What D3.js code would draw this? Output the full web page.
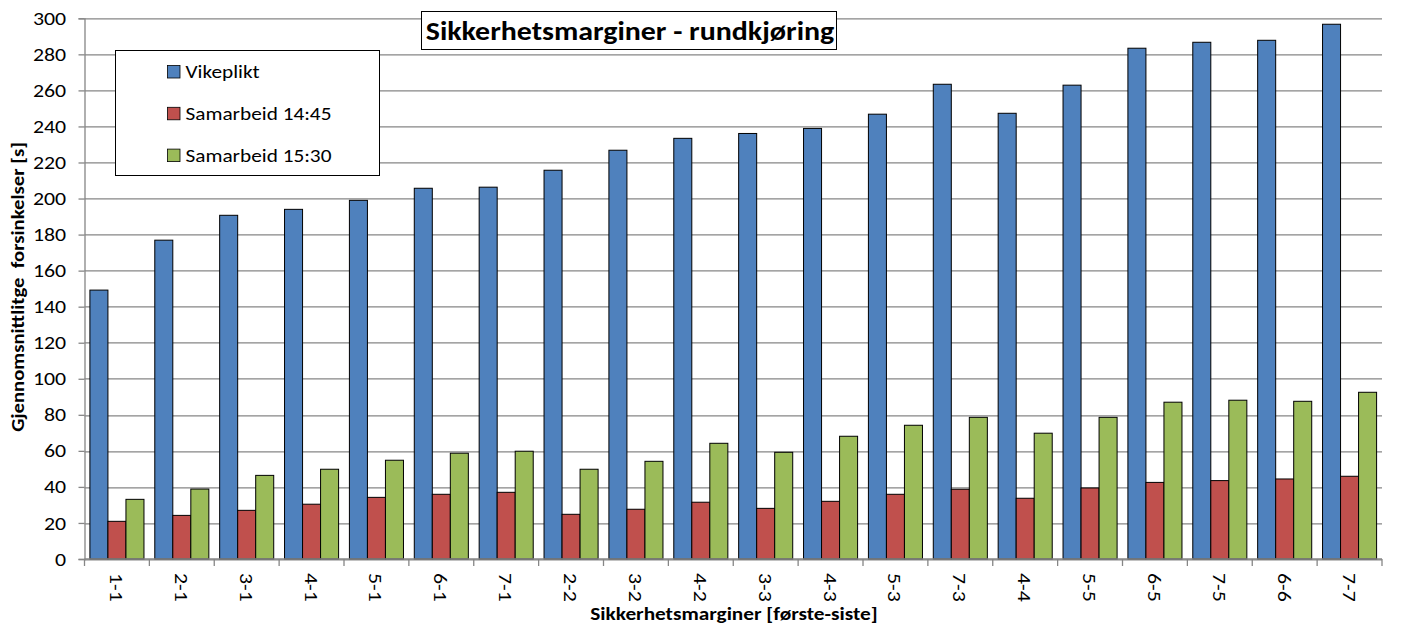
<!DOCTYPE html>
<html>
<head>
<meta charset="utf-8">
<script src="https://cdn.jsdelivr.net/npm/d3@7"></script>
<style>
    body { margin: 0; background: #fff; }
    svg text { font-family: Carlito, Calibri, Lato, sans-serif; fill: #000; }
</style>
</head>
<body>
<div id="chart"></div>
<script>
// Categories (first-last safety margin)
const categories = ['1-1', '2-1', '3-1', '4-1', '5-1', '6-1', '7-1', '2-2', '3-2', '4-2',
                    '3-3', '4-3', '5-3', '7-3', '4-4', '5-5', '6-5', '7-5', '6-6', '7-7'];

const seriesNames = ['Vikeplikt', 'Samarbeid 14:45', 'Samarbeid 15:30'];

const vikeplikt = [149.2, 176.9, 190.7, 194.0, 199.0, 205.7, 206.3, 215.7, 226.8, 233.4,
                   236.1, 238.9, 246.8, 263.4, 247.3, 262.9, 283.4, 286.7, 287.8, 296.7];
const samarbeid1445 = [20.9, 24.2, 27.0, 30.4, 34.2, 35.9, 37.0, 24.8, 27.6, 31.5,
                       28.1, 32.0, 35.9, 38.7, 33.7, 39.4, 42.5, 43.5, 44.4, 45.9];
const samarbeid1530 = [33.1, 38.8, 46.4, 49.8, 54.8, 58.7, 59.8, 49.8, 54.2, 64.2,
                       59.2, 68.1, 74.2, 78.6, 69.8, 78.6, 87.0, 88.1, 87.5, 92.5];

const yTicks = d3.range(0, 301, 20);
const colors = ['#4F81BD', '#C0504D', '#9BBB59'];

// the original text is a bit wider than Lato, so stretch it sideways
const SX = 1.15;

const width = 1401, height = 626;
const margin = { top: 18.3, right: 19, bottom: 67, left: 84.5 };

const svg = d3.select('#chart').append('svg')
    .attr('width', width)
    .attr('height', height);

const plotW = width - margin.left - margin.right;
const plotH = height - margin.top - margin.bottom;

const g = svg.append('g')
    .attr('transform', `translate(${margin.left},${margin.top})`);

// Scales
const x0 = d3.scaleBand().domain(categories).range([0, plotW]).padding(0);
const x1 = d3.scaleBand().domain([0, 1, 2]).range([0, x0.bandwidth()])
    .paddingInner(0).paddingOuter(0.3);
const y = d3.scaleLinear().domain([0, 300]).range([plotH, 0]);

// Gridlines
g.append('g')
    .selectAll('line')
    .data(yTicks)
    .enter()
    .append('line')
    .attr('x1', 0)
    .attr('x2', plotW)
    .attr('y1', d => Math.round(y(d)) + 0.5)
    .attr('y2', d => Math.round(y(d)) + 0.5)
    .style('stroke', '#868686')
    .style('stroke-width', 1.3);

// Bars
const data = categories.map((c, i) => ({
    cat: c,
    values: [vikeplikt[i], samarbeid1445[i], samarbeid1530[i]]
}));

const groups = g.selectAll('.group')
    .data(data)
    .enter()
    .append('g')
    .attr('class', 'group')
    .attr('transform', d => `translate(${x0(d.cat)},0)`);

groups.selectAll('rect')
    .data(d => d.values.map((v, k) => ({ k, v })))
    .enter()
    .append('rect')
    .attr('x', d => x1(d.k))
    .attr('y', d => y(d.v))
    .attr('width', x1.bandwidth())
    .attr('height', d => plotH - y(d.v))
    .style('fill', d => colors[d.k])
    .style('stroke', '#000')
    .style('stroke-width', 1);

// Y axis
const yAxis = g.append('g')
    .call(d3.axisLeft(y).tickValues(yTicks).tickSize(6).tickPadding(10));
yAxis.select('.domain').style('stroke', '#868686').style('stroke-width', 1.3);
yAxis.selectAll('.tick line').style('stroke', '#868686').style('stroke-width', 1.3);
yAxis.selectAll('.tick text')
    .attr('transform', `scale(${SX},1)`)
    .style('font-family', 'Carlito, Calibri, Lato, sans-serif')
    .style('font-size', '19px')
    .style('fill', '#000');

// X axis: line plus boundary ticks
const xAxis = g.append('g').attr('transform', `translate(0,${plotH})`);
xAxis.append('line')
    .attr('x1', 0).attr('x2', plotW)
    .attr('y1', 0).attr('y2', 0)
    .style('stroke', '#868686')
    .style('stroke-width', 1.3);
xAxis.selectAll('.xtick')
    .data(categories.map(c => x0(c)).concat([plotW]))
    .enter()
    .append('line')
    .attr('x1', d => d).attr('x2', d => d)
    .attr('y1', 0).attr('y2', 7)
    .style('stroke', '#868686')
    .style('stroke-width', 1.3);
xAxis.selectAll('.xlabel')
    .data(categories)
    .enter()
    .append('text')
    .attr('transform', d => `translate(${x0(d) + x0.bandwidth() / 2 - 7},14) rotate(90) scale(${SX},1)`)
    .style('font-size', '19px')
    .text(d => d);

// Axis titles
svg.append('text')
    .attr('transform', `translate(24,287) rotate(-90) scale(${SX},1)`)
    .attr('text-anchor', 'middle')
    .attr('xml:space', 'preserve')
    .style('font-size', '18px')
    .style('font-weight', 'bold')
    .text('Gjennomsnittlitge  forsinkelser [s]');

svg.append('text')
    .attr('transform', `translate(734,620) scale(${SX},1)`)
    .attr('text-anchor', 'middle')
    .style('font-size', '18.5px')
    .style('font-weight', 'bold')
    .text('Sikkerhetsmarginer [første-siste]');

// Title with box
svg.append('rect')
    .attr('x', 421.5).attr('y', 11.5)
    .attr('width', 415).attr('height', 38)
    .style('fill', '#fff')
    .style('stroke', '#000')
    .style('stroke-width', 1);
svg.append('text')
    .attr('transform', `translate(630,40) scale(${SX},1)`)
    .attr('text-anchor', 'middle')
    .style('font-size', '26px')
    .style('font-weight', 'bold')
    .text('Sikkerhetsmarginer - rundkjøring');

// Legend
const legend = svg.append('g');
legend.append('rect')
    .attr('x', 115.5).attr('y', 50.5)
    .attr('width', 264).attr('height', 125)
    .style('fill', '#fff')
    .style('stroke', '#000')
    .style('stroke-width', 1);
const items = legend.selectAll('.item')
    .data(seriesNames)
    .enter()
    .append('g')
    .attr('transform', (d, i) => `translate(167.5,${65.5 + i * 41.8})`);
items.append('rect')
    .attr('width', 12.5).attr('height', 12.5)
    .style('fill', (d, i) => colors[i])
    .style('stroke', '#000')
    .style('stroke-width', 0.8);
items.append('text')
    .attr('transform', `translate(18,12.5) scale(${SX},1)`)
    .style('font-size', '18.5px')
    .text(d => d);
</script>
</body>
</html>
